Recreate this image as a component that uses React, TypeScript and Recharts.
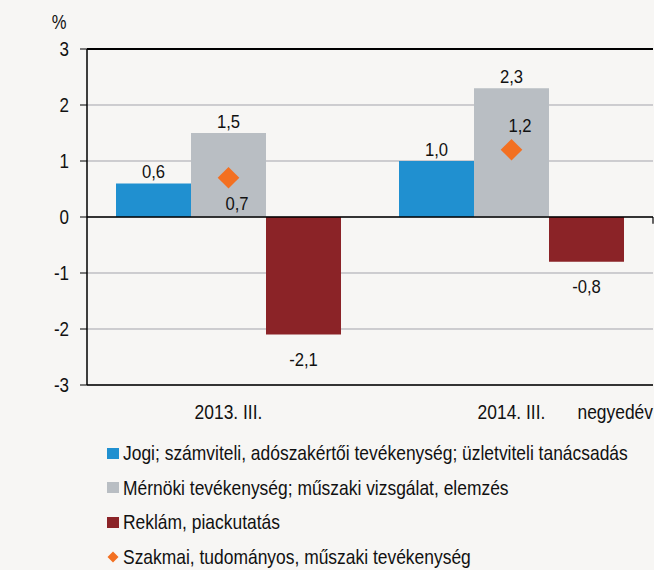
import React from 'react';
import {
  ComposedChart,
  Bar,
  Scatter,
  XAxis,
  YAxis,
  CartesianGrid,
  ReferenceLine,
  LabelList,
} from 'recharts';

const categories = ['2013. III.', '2014. III.'];
const jogiValues = [0.6, 1.0];
const mernokiValues = [1.5, 2.3];
const reklamValues = [-2.1, -0.8];
const szakmaiValues = [0.7, 1.2];
const szakmaiLabelSide = ['below', 'above'];
const yTicks = [-3, -2, -1, 0, 1, 2, 3];

const seriesNames = {
  jogi: 'Jogi; számviteli, adószakértői tevékenység; üzletviteli tanácsadás',
  mernoki: 'Mérnöki tevékenység; műszaki vizsgálat, elemzés',
  reklam: 'Reklám, piackutatás',
  szakmai: 'Szakmai, tudományos, műszaki tevékenység',
};

const COLORS = {
  jogi: '#2090d0',
  mernoki: '#b9bec3',
  reklam: '#8b2327',
  szakmai: '#f37021',
};

const FONT = "'Liberation Sans', Arial, sans-serif";
const SX = 0.83;
const BG = '#f7f6f4';

const data = categories.map((cat, i) => ({
  cat,
  jogi: jogiValues[i],
  mernoki: mernokiValues[i],
  reklam: reklamValues[i],
  szakmai: szakmaiValues[i],
}));

const fmt = (v: number) => v.toFixed(1).replace('.', ',');

const NText = ({ x, y, anchor = 'middle', size = 19.5, sx = SX, children }: any) => (
  <text
    transform={`translate(${x},${y}) scale(${sx},1)`}
    x={0}
    y={0}
    textAnchor={anchor}
    fontFamily={FONT}
    fontSize={size}
    fill="#111"
  >
    {children}
  </text>
);

const BarLabel = (props: any) => {
  const { x, y, width, height, value } = props;
  const top = Math.min(y, y + height);
  const bottom = Math.max(y, y + height);
  const cx = x + width / 2;
  const ty = value >= 0 ? top - 5.5 : bottom + 31;
  return <NText x={cx} y={ty} size={18.5} sx={0.9}>{fmt(value)}</NText>;
};

const ScatterLabel = (props: any) => {
  const { x, y, width, height, value, index } = props;
  const cx = x + (width || 0) / 2;
  const cy = y + (height || 0) / 2;
  const side = szakmaiLabelSide[index];
  const ty = side === 'below' ? cy + 32 : cy - 18;
  return <NText x={cx + 8.5} y={ty} size={18.5} sx={0.9}>{fmt(value)}</NText>;
};

const Diamond = (props: any) => {
  const { cx, cy } = props;
  const r = 10.8;
  return (
    <polygon
      points={`${cx},${cy - r} ${cx + r},${cy} ${cx},${cy + r} ${cx - r},${cy}`}
      fill={COLORS.szakmai}
    />
  );
};

const YTick = (p: any) => (
  <NText x={p.x} y={p.y + 7} anchor="end" size={20} sx={0.85}>
    {String(p.payload.value)}
  </NText>
);

const XTick = (p: any) => (
  <NText x={p.x} y={p.y + 14.5} size={21}>
    {p.payload.value}
  </NText>
);

const legendItems = [
  { key: 'jogi', type: 'square' },
  { key: 'mernoki', type: 'square' },
  { key: 'reklam', type: 'square' },
  { key: 'szakmai', type: 'diamond' },
] as const;

export default function App() {
  return (
    <div
      style={{
        position: 'absolute',
        left: 0,
        top: 0,
        width: 654,
        height: 570,
        background: BG,
        overflow: 'hidden',
        fontFamily: FONT,
      }}
    >
      <ComposedChart
        width={654}
        height={430}
        data={data}
        margin={{ top: 49, right: 1, bottom: 0, left: 0 }}
        barCategoryGap="10.25%"
        barGap={0}
      >
        <CartesianGrid horizontal vertical={false} stroke="#a3a3ab" strokeWidth={1} />
        <XAxis
          dataKey="cat"
          height={45}
          tickLine={false}
          tickSize={0}
          tickMargin={19}
          axisLine={{ stroke: '#000', strokeWidth: 1.5 }}
          tick={XTick}
          label={(p: any) => {
            const vb = p.viewBox;
            return (
              <NText x={vb.x + vb.width} y={vb.y + 33.5} anchor="end" size={21}>
                negyedév
              </NText>
            );
          }}
        />
        <XAxis xAxisId="num" type="number" domain={[0, 2]} hide />
        <YAxis
          type="number"
          domain={[-3, 3]}
          ticks={yTicks}
          width={87}
          tickSize={7}
          tickMargin={11}
          interval={0}
          allowDataOverflow
          tickLine={{ stroke: '#000' }}
          axisLine={{ stroke: '#000', strokeWidth: 1.5 }}
          tick={YTick}
          label={(p: any) => {
            const vb = p.viewBox;
            return (
              <NText x={59} y={vb.y - 20} size={20}>
                %
              </NText>
            );
          }}
        />
        <ReferenceLine y={3} stroke="#000" strokeWidth={2} />
        <ReferenceLine y={0} stroke="#000" strokeWidth={1.5} />
        <ReferenceLine xAxisId="num" x={2} stroke="#333" strokeWidth={1} />
        <ReferenceLine
          xAxisId="num"
          segment={[
            { x: 1, y: 0 },
            { x: 1, y: -0.12 },
          ]}
          stroke="#000"
          strokeWidth={1.2}
        />
        <Bar dataKey="jogi" fill={COLORS.jogi} isAnimationActive={false}>
          <LabelList dataKey="jogi" content={BarLabel} />
        </Bar>
        <Bar dataKey="mernoki" fill={COLORS.mernoki} isAnimationActive={false}>
          <LabelList dataKey="mernoki" content={BarLabel} />
        </Bar>
        <Bar dataKey="reklam" fill={COLORS.reklam} isAnimationActive={false}>
          <LabelList dataKey="reklam" content={BarLabel} />
        </Bar>
        <Scatter dataKey="szakmai" shape={Diamond} isAnimationActive={false}>
          <LabelList dataKey="szakmai" content={ScatterLabel} />
        </Scatter>
      </ComposedChart>
      <div style={{ position: 'absolute', left: 107, top: 436 }}>
        {legendItems.map((item) => (
          <div
            key={item.key}
            style={{
              height: 34.6,
              display: 'flex',
              alignItems: 'center',
              fontSize: 21,
              color: '#111',
              whiteSpace: 'nowrap',
            }}
          >
            {item.type === 'square' ? (
              <span
                style={{
                  display: 'inline-block',
                  width: 11.5,
                  height: 11,
                  background: COLORS[item.key],
                  marginRight: 4,
                }}
              />
            ) : (
              <svg width={12} height={12} style={{ marginRight: 3.5 }}>
                <polygon points="6,0.5 11.5,6 6,11.5 0.5,6" fill={COLORS.szakmai} />
              </svg>
            )}
            <span
              style={{
                display: 'inline-block',
                transform: `scaleX(${SX})`,
                transformOrigin: 'left center',
              }}
            >
              {seriesNames[item.key]}
            </span>
          </div>
        ))}
      </div>
    </div>
  );
}
